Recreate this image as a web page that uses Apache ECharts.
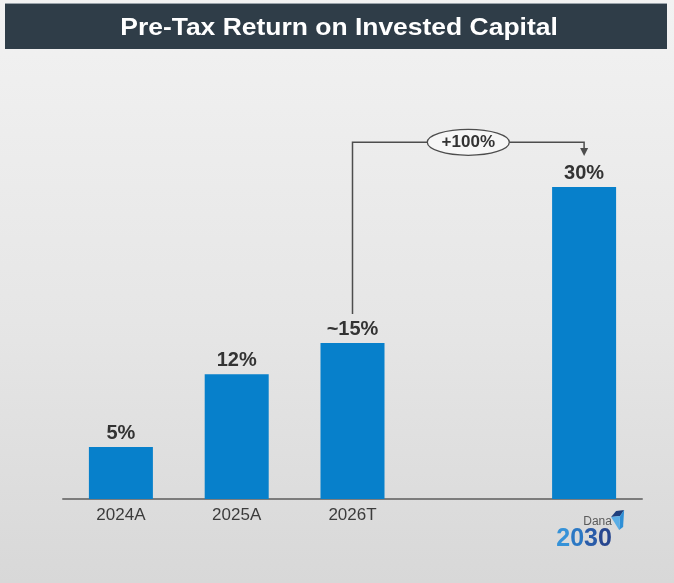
<!DOCTYPE html>
<html>
<head>
<meta charset="utf-8">
<script src="https://cdn.jsdelivr.net/npm/echarts@6/dist/echarts.min.js"></script>
<style>
  html, body { margin: 0; padding: 0; }
  #chart {
    width: 674px; height: 583px;
    background: linear-gradient(to bottom, #f2f2f2 0%, #e6e6e6 55%, #d8d8d8 100%);
  }
</style>
</head>
<body>
<div id="chart"></div>
<script>
// Pre-tax ROIC by year; the empty slot separates the actual/target years from the 2030 goal
const categories = ['2024A', '2025A', '2026T', '', '2030'];
const roicValues = [5, 12, 15, null, 30];
const valueLabels = ['5%', '12%', '~15%', '', '30%'];
const changeLabel = '+100%';
const titleText = 'Pre-Tax Return on Invested Capital';
const logoWord = 'Dana';

// bracket from the 2026T bar to the 2030 bar, height in axis units
const bracketLevel = 34.3;
const bracketFrom = 2;
const bracketTo = 4;

const FONT = "'Liberation Sans', Arial, Helvetica, sans-serif";
const digitColors = ['#3592d8', '#2b78c4', '#2a5ca9', '#27468f'];

const chart = echarts.init(document.getElementById('chart'), null, { renderer: 'canvas' });

chart.setOption({
  backgroundColor: 'transparent',
  animation: false,
  grid: { left: 63, right: 32, top: 83, bottom: 84, containLabel: false },
  xAxis: {
    type: 'category',
    data: categories,
    boundaryGap: true,
    axisLine: { show: true, lineStyle: { color: '#7c7c7c', width: 2 } },
    axisTick: { show: false },
    axisLabel: {
      interval: 0,
      margin: 8,
      color: '#3c3c3c',
      fontSize: 17,
      fontFamily: FONT,
      formatter: function (value, index) {
        if (index !== categories.length - 1) return value;
        const digits = value.split('').map(function (c, i) { return '{d' + (i + 1) + '|' + c + '}'; }).join('');
        return '{sp| }\n{dana|' + logoWord + '}\n' + digits;
      },
      rich: {
        sp: { fontSize: 1, lineHeight: 9 },
        dana: { fontSize: 12, lineHeight: 12, color: '#5a5a5a', align: 'right', fontFamily: FONT },
        d1: { fontSize: 25, lineHeight: 22, fontWeight: 'bold', color: digitColors[0], fontFamily: FONT },
        d2: { fontSize: 25, lineHeight: 22, fontWeight: 'bold', color: digitColors[1], fontFamily: FONT },
        d3: { fontSize: 25, lineHeight: 22, fontWeight: 'bold', color: digitColors[2], fontFamily: FONT },
        d4: { fontSize: 25, lineHeight: 22, fontWeight: 'bold', color: digitColors[3], fontFamily: FONT }
      }
    }
  },
  yAxis: {
    type: 'value',
    min: 0,
    max: 40,
    show: false,
    splitLine: { show: false }
  },
  series: [{
    type: 'bar',
    data: roicValues,
    barWidth: 64,
    itemStyle: { color: '#0780cb' },
    label: {
      show: true,
      position: 'top',
      distance: 4,
      color: '#333333',
      fontSize: 20,
      fontWeight: 'bold',
      fontFamily: FONT,
      formatter: function (p) { return valueLabels[p.dataIndex]; }
    }
  }]
});

// Title band, growth bracket and logo mark, placed from the axis scales
function px(i, v) { return chart.convertToPixel({ gridIndex: 0 }, [i, v]); }

const fromTop = px(bracketFrom, roicValues[bracketFrom]);
const toTop = px(bracketTo, roicValues[bracketTo]);
const levelY = px(bracketFrom, bracketLevel)[1];
const startY = fromTop[1] - 29;
const tipY = toTop[1] - 31;
const x1 = fromTop[0];
const x2 = toTop[0];
const midX = (x1 + x2) / 2;
const lineColor = '#4d4d4d';

const logoBase = px(bracketTo, 0);
const lx = logoBase[0];
const ly = logoBase[1];

chart.setOption({
  graphic: [
    { type: 'rect', z: -1, silent: true, shape: { x: 5, y: 4, width: 662, height: 45 }, style: { fill: '#2f3d48' } },
    { type: 'line', z: -1, silent: true, shape: { x1: 5, y1: 3.5, x2: 667, y2: 3.5 }, style: { stroke: '#9aa3aa', lineWidth: 1 } },
    {
      type: 'text', z: 5, silent: true,
      x: 339, y: 29, scaleX: 1.15,
      style: {
        text: titleText, fill: '#ffffff', font: 'bold 23px ' + FONT,
        align: 'center', verticalAlign: 'middle'
      }
    },
    {
      type: 'polyline', z: 10, silent: true,
      shape: { points: [[x1, startY], [x1, levelY], [x2, levelY], [x2, tipY - 7]] },
      style: { stroke: lineColor, lineWidth: 1.5, fill: null }
    },
    {
      type: 'polygon', z: 10, silent: true,
      shape: { points: [[x2 - 4, tipY - 8], [x2 + 4, tipY - 8], [x2, tipY]] },
      style: { fill: lineColor }
    },
    {
      type: 'ellipse', z: 11, silent: true,
      shape: { cx: midX, cy: levelY, rx: 41, ry: 13 },
      style: { fill: '#f6f6f6', stroke: lineColor, lineWidth: 1.3 }
    },
    {
      type: 'text', z: 12, silent: true,
      x: midX, y: levelY,
      style: {
        text: changeLabel, fill: '#333333', font: 'bold 17px ' + FONT,
        align: 'center', verticalAlign: 'middle'
      }
    },
    {
      type: 'polygon', z: 10, silent: true,
      shape: { points: [[lx + 27, ly + 18], [lx + 32, ly + 12], [lx + 40, ly + 11], [lx + 36, ly + 17]] },
      style: { fill: '#1f3f7c' }
    },
    {
      type: 'polygon', z: 10, silent: true,
      shape: { points: [[lx + 36, ly + 17], [lx + 40, ly + 11], [lx + 39, ly + 28], [lx + 35, ly + 31]] },
      style: { fill: '#2e8fd6' }
    },
    {
      type: 'polygon', z: 10, silent: true,
      shape: { points: [[lx + 27, ly + 18], [lx + 36, ly + 17], [lx + 35, ly + 31]] },
      style: { fill: '#5aaee6' }
    }
  ]
});
</script>
</body>
</html>
